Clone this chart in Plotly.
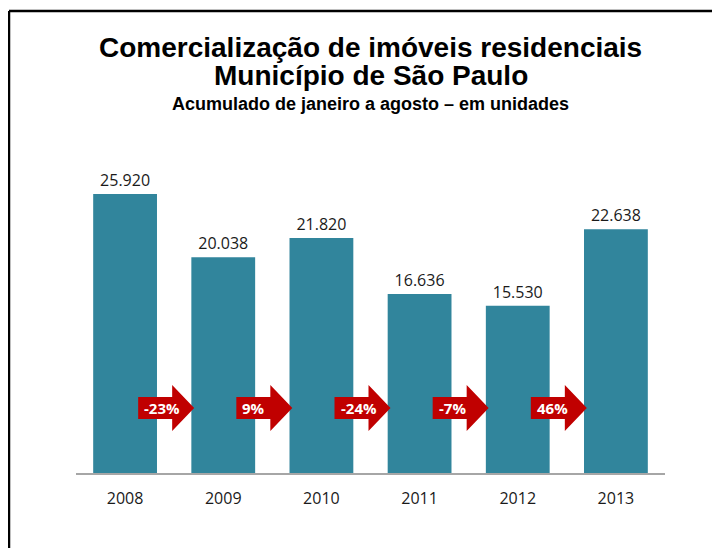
import plotly.graph_objects as go

# dados
anos = ['2008', '2009', '2010', '2011', '2012', '2013']
unidades = [25920, 20038, 21820, 16636, 15530, 22638]
variacao = ['-23%', '9%', '-24%', '-7%', '46%']

# a página tem 8px de margem no body, por isso a figura é menor
OFF = 8
W, H = 720 - OFF, 548 - OFF
ML, MR, MT, MB = 76 - OFF, 55, 150 - OFF, 75
plot_h = H - MT - MB
plot_w = W - ML - MR


def py(pix):
    # posição vertical (pixels da imagem) -> coordenada paper
    return (H - MB - (pix - OFF)) / plot_h


def px(pix):
    return (pix - OFF - ML) / plot_w


azul = '#31859C'
vermelho = '#C00000'

rotulos = [f'{v:,}'.replace(',', '.') for v in unidades]
xs = list(range(len(anos)))

fig = go.Figure()
fig.add_trace(go.Bar(
    x=xs, y=unidades,
    marker=dict(color=azul, line=dict(width=0)),
    text=rotulos,
    textposition='outside',
    textfont=dict(family='Open Sans', size=16, color='#1a1a1a'),
    cliponaxis=False,
    hoverinfo='skip'
))

# setas de variação entre as barras
seta = 'M-36,-11 L-2,-11 L-2,-23 L20,0 L-2,23 L-2,11 L-36,11 Z'
shapes = []
annotations = []
for i, txt in enumerate(variacao):
    shapes.append(dict(
        type='path', path=seta,
        xref='x', xsizemode='pixel', xanchor=i + 0.5,
        yref='paper', ysizemode='pixel', yanchor=py(408),
        fillcolor=vermelho, line=dict(width=0), layer='above'
    ))
    annotations.append(dict(
        x=i + 0.5, xref='x', xanchor='left', xshift=-32,
        y=py(408), yref='paper', yanchor='middle',
        text=txt, showarrow=False,
        font=dict(family='Open Sans', size=15, color='white', weight='bold')
    ))

# moldura
shapes.append(dict(type='line', xref='paper', yref='paper',
                   x0=px(9), x1=px(740), y0=py(11), y1=py(11),
                   line=dict(color='black', width=2.5)))
shapes.append(dict(type='line', xref='paper', yref='paper',
                   x0=px(9), x1=px(9), y0=py(11), y1=py(570),
                   line=dict(color='black', width=2.5)))

# títulos
titulos = [
    ('<b>Comercialização de imóveis residenciais</b>', 48, 28),
    ('<b>Município de São Paulo</b>', 75, 28),
    ('<b>Acumulado de janeiro a agosto – em unidades</b>', 104, 18),
]
for txt, ypix, tam in titulos:
    annotations.append(dict(
        x=0.5, xref='paper', y=py(ypix), yref='paper', yanchor='middle',
        text=txt, showarrow=False,
        font=dict(family='Liberation Sans', size=tam, color='black')
    ))

fig.update_layout(
    width=W, height=H,
    margin=dict(l=ML, r=MR, t=MT, b=MB),
    plot_bgcolor='white', paper_bgcolor='white',
    bargap=0.35,
    showlegend=False,
    shapes=shapes,
    annotations=annotations,
    xaxis=dict(
        range=[-0.5, 5.5], tickvals=xs, ticktext=anos,
        showgrid=False, zeroline=False, ticks='',
        showline=True, linecolor='#A6A6A6', linewidth=2,
        tickfont=dict(family='Open Sans', size=16, color='#1a1a1a'),
        ticklabelstandoff=10,
        fixedrange=True
    ),
    yaxis=dict(
        range=[0, 30000], visible=False, showgrid=False, fixedrange=True
    )
)

fig.write_html('out.html')
